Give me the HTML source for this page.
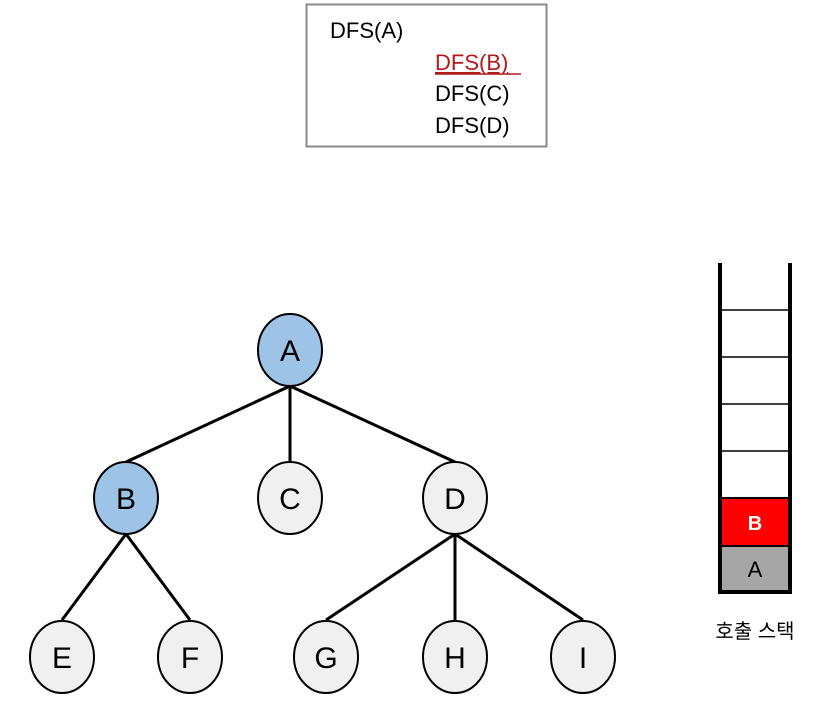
<!DOCTYPE html>
<html><head><meta charset="utf-8"><style>
body{margin:0;background:#fff;width:836px;height:718px;overflow:hidden}
</style></head><body>
<svg width="836" height="718" xmlns="http://www.w3.org/2000/svg" font-family="Liberation Sans, sans-serif">
<rect x="306.5" y="4.5" width="240" height="142" fill="#fff" stroke="#8a8a8a" stroke-width="2"/>
<text x="330" y="38" font-size="22">DFS(A)</text>
<text x="435" y="70" font-size="22" fill="#b01a1a" text-decoration="underline">DFS(B)</text>
<line x1="435" y1="74" x2="521" y2="74" stroke="#b01a1a" stroke-width="1.5"/>
<text x="435" y="101" font-size="22">DFS(C)</text>
<text x="435" y="133" font-size="22">DFS(D)</text>
<g stroke="#000" stroke-width="3">
<line x1="290" y1="386" x2="126" y2="462"/>
<line x1="290" y1="386" x2="290" y2="462"/>
<line x1="290" y1="386" x2="455" y2="462"/>
<line x1="126" y1="534" x2="62" y2="620"/>
<line x1="126" y1="534" x2="190" y2="620"/>
<line x1="455" y1="534" x2="326" y2="620"/>
<line x1="455" y1="534" x2="455" y2="620"/>
<line x1="455" y1="534" x2="583" y2="620"/>
</g>
<g stroke="#000" stroke-width="2">
<ellipse cx="290" cy="350" rx="32" ry="36" fill="#9dc3e6"/>
<ellipse cx="126" cy="498" rx="32" ry="36" fill="#9dc3e6"/>
<ellipse cx="290" cy="498" rx="32" ry="36" fill="#f0f0f0"/>
<ellipse cx="455" cy="498" rx="32" ry="36" fill="#f0f0f0"/>
<ellipse cx="62" cy="657" rx="32" ry="36" fill="#f0f0f0"/>
<ellipse cx="190" cy="657" rx="32" ry="36" fill="#f0f0f0"/>
<ellipse cx="326" cy="657" rx="32" ry="36" fill="#f0f0f0"/>
<ellipse cx="455" cy="657" rx="32" ry="36" fill="#f0f0f0"/>
<ellipse cx="583" cy="657" rx="32" ry="36" fill="#f0f0f0"/>
</g>
<g font-size="30" text-anchor="middle">
<text x="290" y="361">A</text><text x="126" y="509">B</text><text x="290" y="509">C</text><text x="455" y="509">D</text>
<text x="62" y="668">E</text><text x="190" y="668">F</text><text x="326" y="668">G</text><text x="455" y="668">H</text><text x="583" y="668">I</text>
</g>
<rect x="720" y="498" width="70" height="48" fill="#ff0000"/>
<rect x="720" y="546" width="70" height="46" fill="#a6a6a6"/>
<g stroke="#000" stroke-width="1.5">
<line x1="720" y1="310" x2="790" y2="310"/><line x1="720" y1="357" x2="790" y2="357"/>
<line x1="720" y1="404" x2="790" y2="404"/><line x1="720" y1="451" x2="790" y2="451"/>
</g>
<g stroke="#000" stroke-width="2">
<line x1="720" y1="498" x2="790" y2="498"/><line x1="720" y1="546" x2="790" y2="546"/>
</g>
<path d="M720 263 V592 H790 V263" fill="none" stroke="#000" stroke-width="4"/>
<text x="755" y="530" font-size="20" font-weight="bold" fill="#fff" text-anchor="middle">B</text>
<text x="755" y="577" font-size="22" text-anchor="middle">A</text>
<text x="755" y="638" font-size="20" text-anchor="middle" font-family="Liberation Sans, Noto Sans CJK KR, sans-serif">호출 스택</text>
</svg>
</body></html>
